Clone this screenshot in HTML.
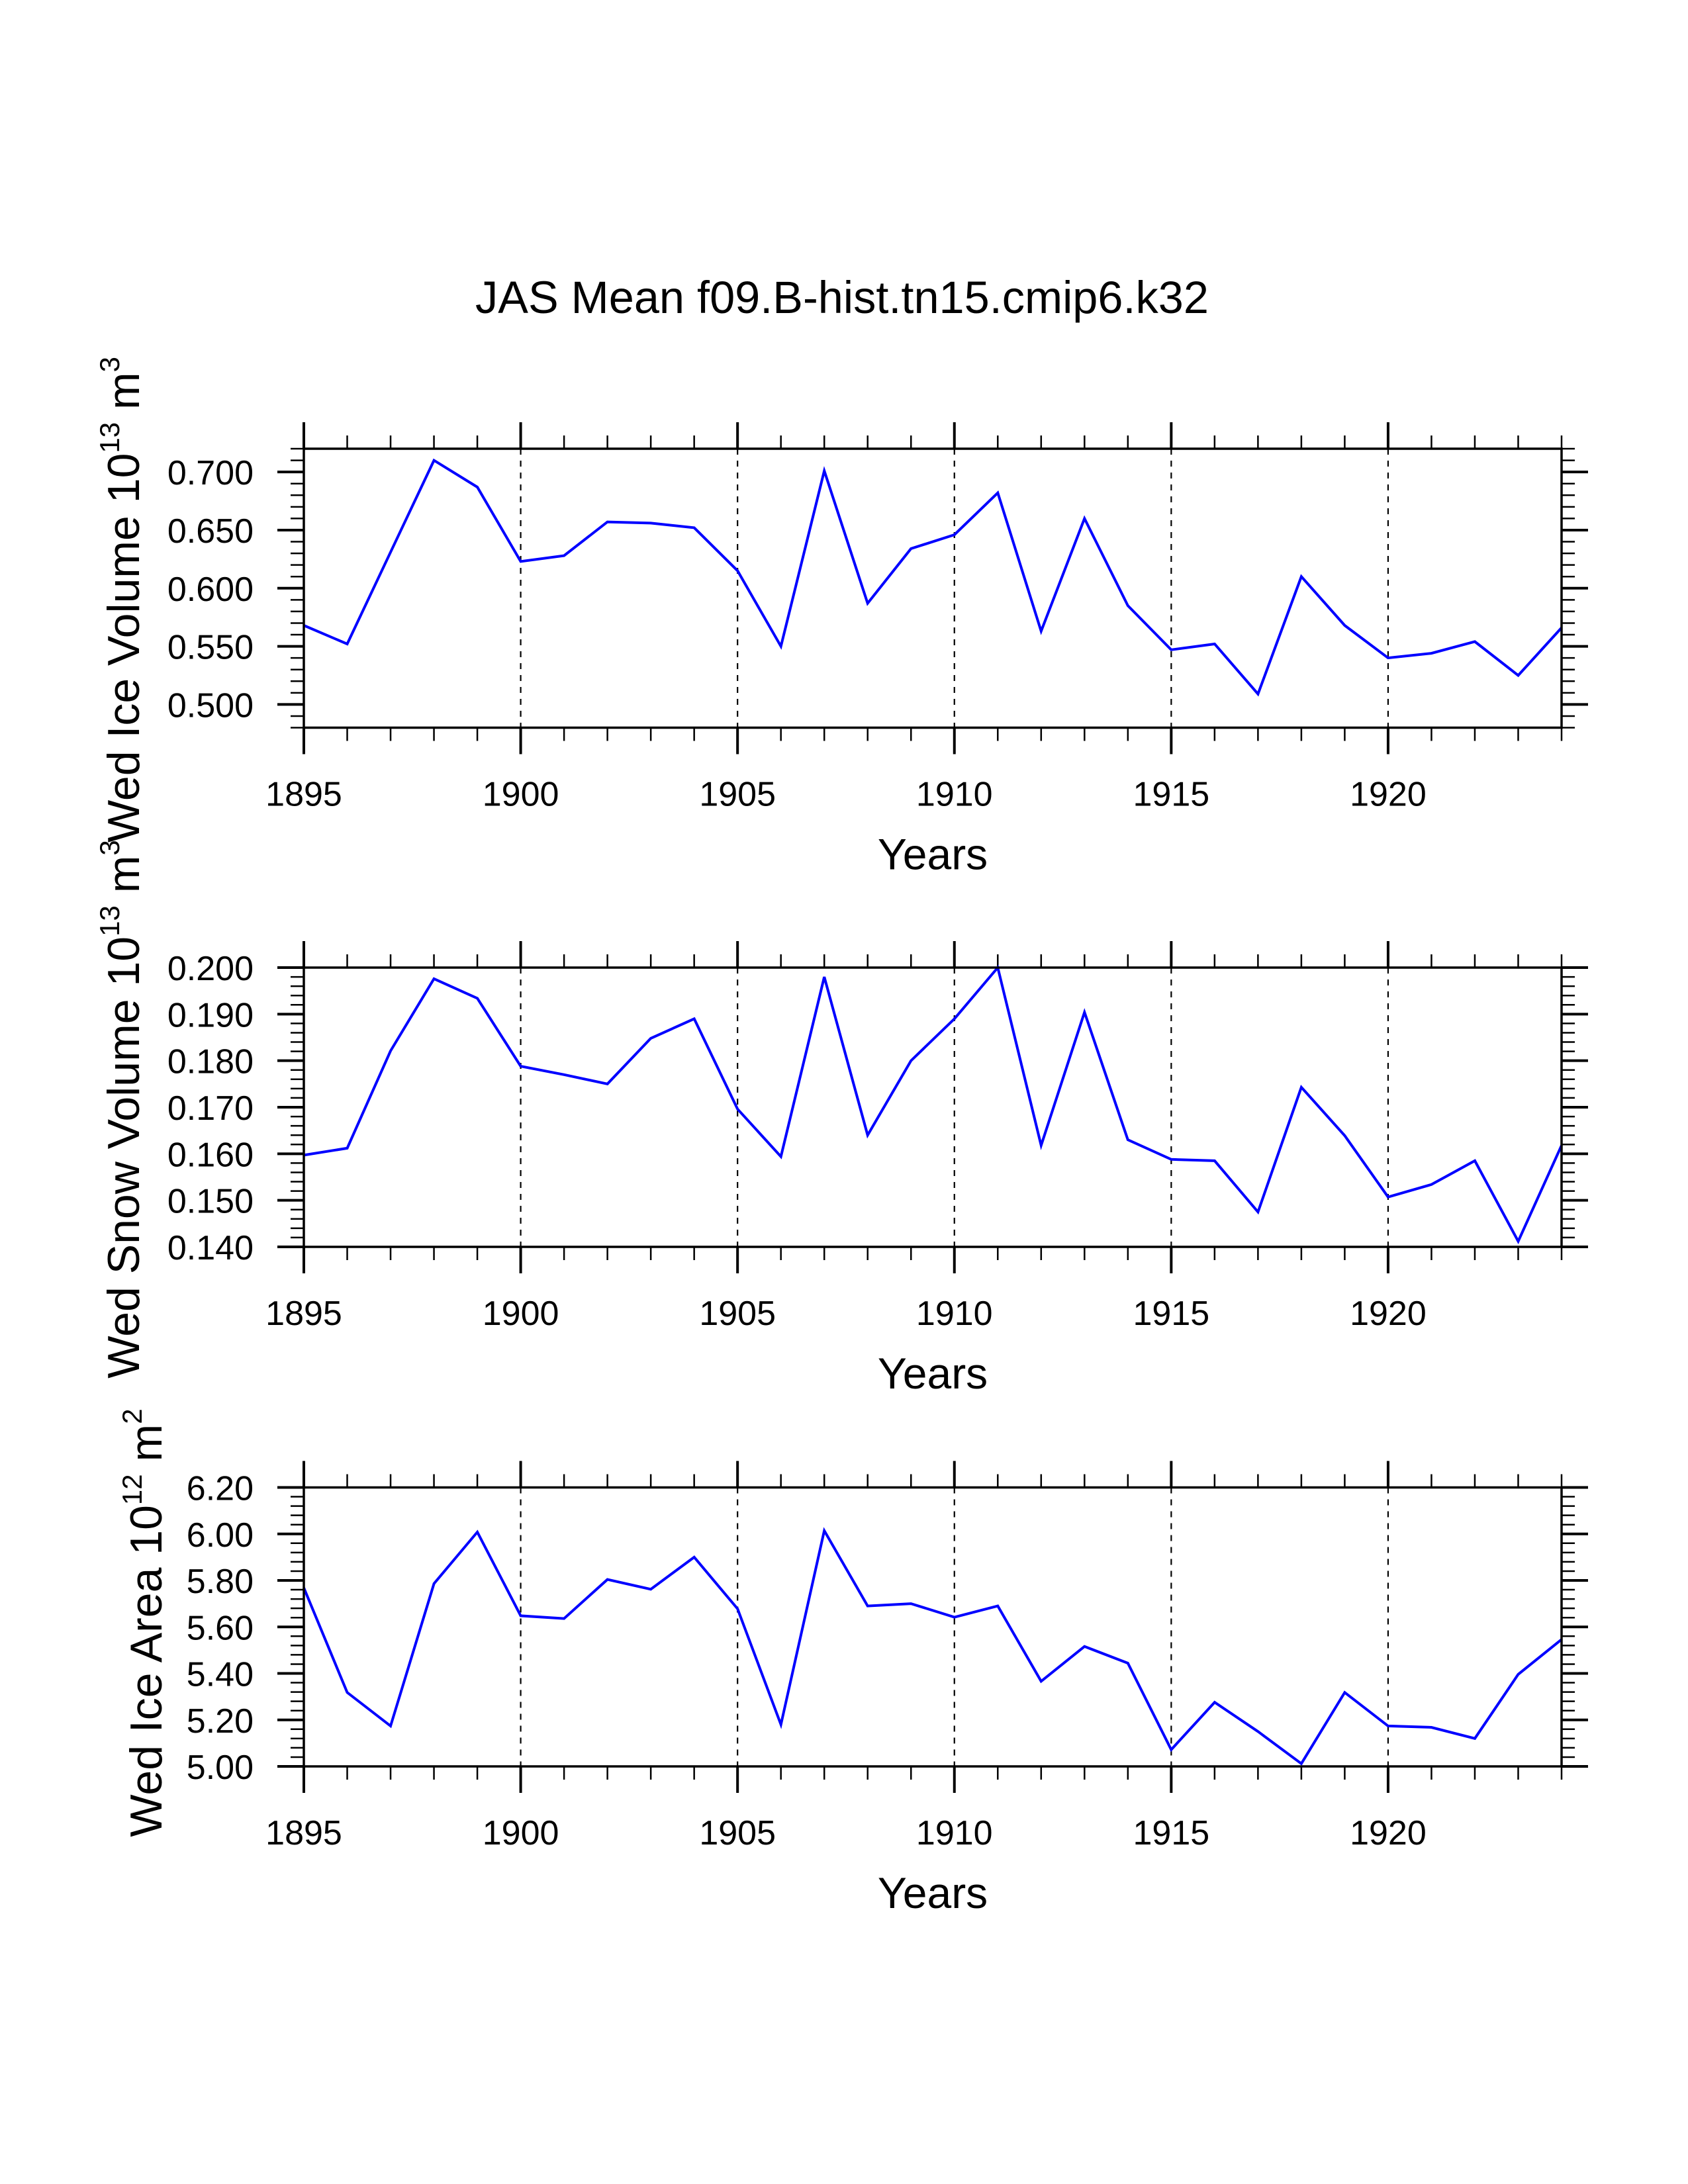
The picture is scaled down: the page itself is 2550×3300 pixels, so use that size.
<!DOCTYPE html>
<html><head><meta charset="utf-8"><style>
html,body{margin:0;padding:0;background:#fff;}
svg{display:block;font-family:"Liberation Sans",Arial,sans-serif;}
</style></head><body>
<svg id="chart" width="2550" height="3300" viewBox="0 0 2550 3300" xmlns="http://www.w3.org/2000/svg">
<rect width="2550" height="3300" fill="#fff"/>
<text x="718" y="473" font-size="68.5" fill="#000">JAS Mean f09.B-hist.tn15.cmip6.k32</text>
</svg>
<script>
const years = [1895,1896,1897,1898,1899,1900,1901,1902,1903,1904,1905,1906,1907,1908,1909,1910,1911,1912,1913,1914,1915,1916,1917,1918,1919,1920,1921,1922,1923,1924];
const iceVolume = [0.568,0.552,0.631,0.710,0.687,0.623,0.628,0.657,0.656,0.652,0.615,0.550,0.701,0.587,0.634,0.646,0.682,0.563,0.660,0.585,0.547,0.552,0.509,0.610,0.568,0.540,0.544,0.554,0.525,0.566];
const snowVolume = [0.1597,0.1612,0.1821,0.1976,0.1934,0.1788,0.1770,0.1750,0.1848,0.1890,0.1696,0.1594,0.1980,0.1640,0.1800,0.1890,0.2000,0.1618,0.1904,0.1630,0.1588,0.1585,0.1475,0.1743,0.1639,0.1507,0.1534,0.1585,0.1412,0.1618];
const iceArea = [5.768,5.318,5.174,5.786,6.008,5.648,5.636,5.804,5.762,5.900,5.678,5.180,6.014,5.690,5.700,5.642,5.690,5.366,5.516,5.444,5.072,5.276,5.150,5.012,5.318,5.174,5.168,5.120,5.396,5.546];
const xTickLabels = ["1895","1900","1905","1910","1915","1920"];
const vol1Ticks = ["0.500","0.550","0.600","0.650","0.700"];
const snowTicks = ["0.140","0.150","0.160","0.170","0.180","0.190","0.200"];
const areaTicks = ["5.00","5.20","5.40","5.60","5.80","6.00","6.20"];

const NS = "http://www.w3.org/2000/svg";
const svg = document.getElementById('chart');
function mk(tag, attrs, parent){
  const e = document.createElementNS(NS, tag);
  for (const k in attrs) e.setAttribute(k, attrs[k]);
  (parent||svg).appendChild(e); return e;
}
const X0 = 459, X1 = 2359;
const xMin = 1895, xMax = 1924;
function xs(v){ return X0 + (v - xMin) / (xMax - xMin) * (X1 - X0); }

const panels = [
  {name:'ice-volume', top:678, bot:1099.5, min:0.48, max:0.72, minor:0.01, data:iceVolume, ticks:vol1Ticks,
   title:['Wed Ice Volume 10','13',' m','3'], tx:186, ty:906},
  {name:'snow-volume', top:1462, bot:1884, min:0.14, max:0.20, minor:0.002, data:snowVolume, ticks:snowTicks,
   title:['Wed Snow Volume 10','13',' m','3'], tx:186, ty:1676},
  {name:'ice-area', top:2247.5, bot:2669, min:5.0, max:6.2, minor:0.04, data:iceArea, ticks:areaTicks,
   title:['Wed Ice Area 10','12',' m','2'], tx:220, ty:2452}
];

panels.forEach(p => {
  const g = mk('g', {});
  
  
  const ys = v => p.bot - (v - p.min) / (p.max - p.min) * (p.bot - p.top);
  for (let y = 1900; y <= 1920; y += 5) {
    const l = mk('line', {x1:xs(y), x2:xs(y), y1:p.top, y2:p.bot, stroke:'#000', 'stroke-width':2.2, 'stroke-dasharray':'9 9'}, g);
    
    
  }
  for (let y = xMin; y <= xMax; y++) {
    const major = (y % 5 === 0);
    const len = major ? 40 : 20, w = major ? 4 : 2.5;
    mk('line', {x1:xs(y), x2:xs(y), y1:p.bot, y2:p.bot+len, stroke:'#000','stroke-width':w}, g);
    mk('line', {x1:xs(y), x2:xs(y), y1:p.top, y2:p.top-len, stroke:'#000','stroke-width':w}, g);
  }
  xTickLabels.forEach(t => {
    const tx = mk('text', {x:xs(+t), y:p.bot+118, 'font-size':52, 'text-anchor':'middle', fill:'#000'}, g);
    tx.textContent = t;
    
    
  });
  const n = Math.round((p.max - p.min) / p.minor);
  for (let i = 0; i <= n; i++) {
    const v = p.min + i * p.minor;
    const yy = ys(v);
    mk('line', {x1:X0-20, x2:X0, y1:yy, y2:yy, stroke:'#000','stroke-width':2.5}, g);
    mk('line', {x1:X1, x2:X1+20, y1:yy, y2:yy, stroke:'#000','stroke-width':2.5}, g);
  }
  p.ticks.forEach(t => {
    const yy = ys(parseFloat(t));
    mk('line', {x1:X0-40, x2:X0, y1:yy, y2:yy, stroke:'#000','stroke-width':4}, g);
    mk('line', {x1:X1, x2:X1+40, y1:yy, y2:yy, stroke:'#000','stroke-width':4}, g);
    const tx = mk('text', {x:383, y:yy+19, 'font-size':52, 'text-anchor':'end', fill:'#000'}, g);
    tx.textContent = t;
    
    
  });
  const pts = p.data.map((v,i) => xs(years[i]).toFixed(1) + ',' + ys(v).toFixed(1)).join(' ');
  const pl = mk('polyline', {points:pts, fill:'none', stroke:'#0000ff','stroke-width':4,'stroke-linejoin':'miter'}, g);
  
  
  const fr = mk('rect', {x:X0, y:p.top, width:X1-X0, height:p.bot-p.top, fill:'none', stroke:'#000','stroke-width':3.5}, g);
  
  
  const xt = mk('text', {x:(X0+X1)/2, y:p.bot+214, 'font-size':66, 'text-anchor':'middle', fill:'#000'}, g);
  xt.textContent = 'Years';
  
  
  const yt = mk('text', {x:0, y:0, 'font-size':68, 'text-anchor':'middle', fill:'#000',
    transform:'translate(' + (p.tx+24) + ',' + p.ty + ') rotate(-90)'}, g);
  
  
  p.title.forEach((s, i) => {
    const ts = mk('tspan', {}, yt);
    if (i % 2 === 1) { ts.setAttribute('font-size', 42); ts.setAttribute('dy', -30); }
    else if (i > 0) { ts.setAttribute('dy', 30); }
    ts.textContent = s;
  });
});
</script>
</body></html>
